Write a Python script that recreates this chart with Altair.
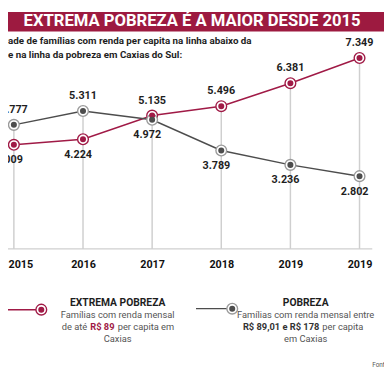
import altair as alt
import pandas as pd

# ---- data ----
year_labels = ["2015", "2016", "2017", "2018", "2019", "2019"]
extrema = [4009, 4224, 5135, 5496, 6381, 7349]
pobreza = [4777, 5311, 4972, 3789, 3236, 2802]
series_names = ["EXTREMA POBREZA", "POBREZA"]

title_text = "EXTREMA POBREZA É A MAIOR DESDE 2015"
subtitle_1 = "ade de famílias com renda per capita na linha abaixo da"
subtitle_2 = "e na linha da pobreza em Caxias do Sul:"

# ---- styling ----
RED = "#a01a46"
BAR = "#9d1a40"
GRAY = "#4d4d4d"
RING_GRAY = "#9a9a9a"
RULE = "#cfcfcf"
TXT = "#1e1e1e"
SOFT = "#555555"
COND = "Roboto"

W, H = 384, 242

idx = list(range(len(year_labels)))
rows = []
for i in idx:
    top = max(extrema[i], pobreza[i])
    for name, vals in ((series_names[0], extrema), (series_names[1], pobreza)):
        v = vals[i]
        rows.append({"i": i, "serie": name, "valor": v,
                     "label": f"{v:,}".replace(",", "."),
                     "is_top": bool(v == top)})
df = pd.DataFrame(rows)
df_rule = pd.DataFrame({"i": idx, "top": [max(a, b) for a, b in zip(extrema, pobreza)]})

labels_js = "[" + ",".join(f"'{y}'" for y in year_labels) + "]"

x_enc = alt.X("i:Q",
              scale=alt.Scale(domain=[-0.085, 5.354], nice=False, zero=False),
              axis=alt.Axis(values=idx, labelExpr=f"{labels_js}[datum.value]",
                            title=None, grid=False, ticks=False, domain=False,
                            labelFont=COND, labelFontSize=11, labelFontWeight="bold",
                            labelColor="#111111", labelPadding=10,
                            labelFlush=10, labelFlushOffset=6))
y_scale = alt.Scale(domain=[0, 9121], nice=False, zero=True)

base = alt.Chart(df)

rules = alt.Chart(df_rule).mark_rule(color=RULE, strokeWidth=1.5).encode(
    x=x_enc, y=alt.Y("top:Q", scale=y_scale, axis=None), y2=alt.value(H))

color_line = alt.Color("serie:N", scale=alt.Scale(domain=series_names, range=[RED, GRAY]), legend=None)
color_ring = alt.Color("serie:N", scale=alt.Scale(domain=series_names, range=[RED, RING_GRAY]), legend=None)

lines = base.mark_line(strokeWidth=1.5).encode(
    x=x_enc, y=alt.Y("valor:Q", scale=y_scale, axis=None), color=color_line)

rings = base.mark_point(shape="circle", filled=True, fill="white", size=120,
                        strokeWidth=1.4, opacity=1).encode(
    x=x_enc, y=alt.Y("valor:Q", scale=y_scale), stroke=color_ring)

dots = base.mark_circle(size=38, opacity=1).encode(
    x=x_enc, y=alt.Y("valor:Q", scale=y_scale), color=color_line)

lab_top = base.transform_filter("datum.is_top").mark_text(
    font=COND, fontSize=11, fontWeight="bold", color=TXT, dy=-15).encode(
    x=x_enc, y=alt.Y("valor:Q", scale=y_scale), text="label:N")

lab_bot = base.transform_filter("!datum.is_top").mark_text(
    font=COND, fontSize=11, fontWeight="bold", color=TXT, dy=16, dx=-5).encode(
    x=x_enc, y=alt.Y("valor:Q", scale=y_scale), text="label:N")

one = pd.DataFrame({"k": [0]})


def txt(t, x, y, size=12, weight="normal", color=TXT, align="center", baseline="middle", font=COND):
    return alt.Chart(one).mark_text(font=font, fontSize=size, fontWeight=weight, color=color,
                                    align=align, baseline=baseline, text=t).encode(
        x=alt.value(x), y=alt.value(y))


def hline(x1, x2, y, color, sw):
    return alt.Chart(one).mark_rule(color=color, strokeWidth=sw).encode(
        x=alt.value(x1), x2=alt.value(x2), y=alt.value(y))


def marker(x, y, ring, fill):
    return [
        alt.Chart(one).mark_point(shape="circle", filled=True, fill="white", stroke=ring,
                                  size=120, strokeWidth=1.4, opacity=1).encode(
            x=alt.value(x), y=alt.value(y)),
        alt.Chart(one).mark_circle(color=fill, size=38, opacity=1).encode(
            x=alt.value(x), y=alt.value(y)),
    ]


title_bar = alt.Chart(one).mark_rect(color=BAR).encode(
    x=alt.value(0), x2=alt.value(W), y=alt.value(0), y2=alt.value(20))

deco = [
    title_bar,
    txt(title_text, 188, 14.5, size=17, weight="bold", color="white", baseline="alphabetic"),
    txt(subtitle_1, 0, 30, size=10, weight="bold", align="left"),
    txt(subtitle_2, 0, 44, size=10, weight="bold", align="left"),
    hline(-8, 372, H, RULE, 1.2),
    # legend: extrema pobreza
    hline(-4, 32, 304, RED, 1.6),
    *marker(34, 304, RED, RED),
    txt("EXTREMA POBREZA", 112, 297, size=10.5, weight="bold"),
    txt("Famílias com renda mensal", 112, 309, size=9.5, color=SOFT),
    txt("de até", 81, 322, size=9.5, color=SOFT, align="right"),
    txt("R$ 89", 84, 322, size=9.5, weight="bold", color=RED, align="left"),
    txt("per capita em", 112, 322, size=9.5, color=SOFT, align="left"),
    txt("Caxias", 112, 334, size=9.5, color=SOFT),
    # legend: pobreza
    hline(192, 228, 303, GRAY, 1.4),
    *marker(229, 303, RING_GRAY, GRAY),
    txt("POBREZA", 304, 297, size=10.5, weight="bold"),
    txt("Famílias com renda mensal entre", 304, 309, size=9.5, color=SOFT),
    txt("R$ 89,01 e R$ 178", 318, 322, size=9.5, weight="bold", color="#333333", align="right"),
    txt("per capita", 321, 322, size=9.5, color=SOFT, align="left"),
    txt("em Caxias", 304, 334, size=9.5, color=SOFT),
    txt("Fonte:", 372, 361, size=6.5, color=SOFT, align="left"),
]

chart = alt.layer(
    rules, lines, rings, dots, lab_top, lab_bot, *deco
).properties(
    width=W, height=H,
    autosize=alt.AutoSizeParams(type="none"),
    padding={"left": 0, "top": 0, "right": 0, "bottom": 142},
    background="white",
).configure_view(stroke=None)

chart.save("out.html", embed_options={"renderer": "svg", "actions": False})
